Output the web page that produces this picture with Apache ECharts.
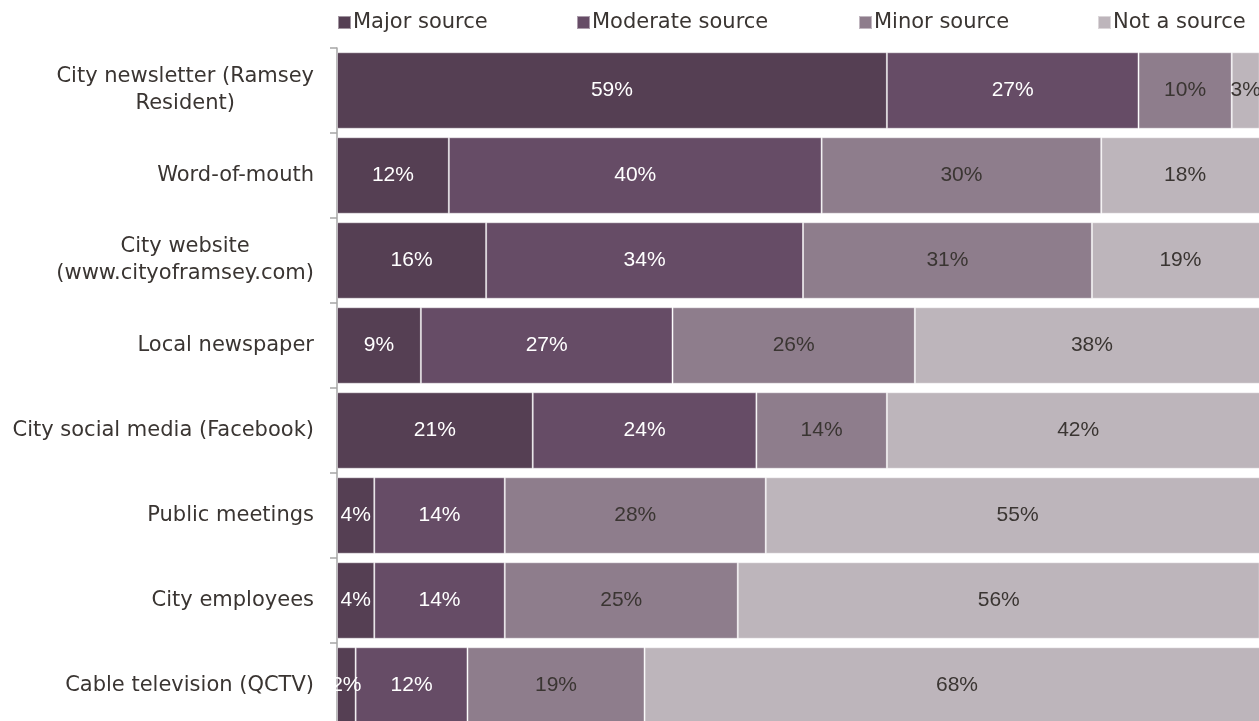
<!DOCTYPE html>
<html>
<head>
<meta charset="utf-8">
<script src="https://cdn.jsdelivr.net/npm/echarts@6/dist/echarts.min.js"></script>
<style>html,body{margin:0;padding:0;background:#fff;overflow:hidden;width:1259px;height:721px;}#c{width:1269px;height:728px;}</style>
</head>
<body>
<div id="c"></div>
<script>
const categories = [
  "City newsletter (Ramsey\nResident)",
  "Word-of-mouth",
  "City website\n(www.cityoframsey.com)",
  "Local newspaper",
  "City social media (Facebook)",
  "Public meetings",
  "City employees",
  "Cable television (QCTV)"
];
const seriesNames = ["Major source", "Moderate source", "Minor source", "Not a source"];
const majorSource    = [59, 12, 16, 9, 21, 4, 4, 2];
const moderateSource = [27, 40, 34, 27, 24, 14, 14, 12];
const minorSource    = [10, 30, 31, 26, 14, 28, 25, 19];
const notASource     = [3, 18, 19, 38, 42, 55, 56, 68];

const colors = ["#553f53", "#664c66", "#8e7d8c", "#bdb5bb"];
const labelColors = ["#ffffff", "#ffffff", "#3a3532", "#3a3532"];
const values = [majorSource, moderateSource, minorSource, notASource];
const legendLeft = [337, 576, 858, 1097];

const chart = echarts.init(document.getElementById('c'));
const font = 'DejaVu Sans';

function catFormatter(v) {
  const lines = v.split('\n');
  if (lines.length === 1) return v;
  return lines.map(l => '{c|' + l + '}').join('\n');
}

chart.setOption({
  backgroundColor: '#ffffff',
  animation: false,
  color: colors,
  legend: seriesNames.map((n, i) => ({
    data: [n],
    left: legendLeft[i],
    top: 12,
    padding: 0,
    icon: 'rect',
    itemWidth: 13,
    itemHeight: 13,
    selectedMode: false,
    textStyle: { fontFamily: font, fontSize: 21, color: '#3a3532', padding: [0, 0, 0, -3] }
  })),
  grid: { left: 337, top: 48, right: 0, bottom: 0 },
  xAxis: { type: 'value', min: 0, max: 100, show: false },
  yAxis: {
    type: 'category',
    inverse: true,
    data: categories,
    axisLine: { show: true, lineStyle: { color: '#a6a6a6', width: 1.5 } },
    axisTick: { show: true, length: 7, lineStyle: { color: '#a6a6a6', width: 1.5 } },
    axisLabel: {
      margin: 23,
      fontFamily: font,
      fontSize: 21,
      color: '#3a3532',
      lineHeight: 27,
      formatter: catFormatter,
      rich: { c: { fontFamily: font, fontSize: 21, color: '#3a3532', lineHeight: 27, align: 'center' } }
    }
  },
  series: seriesNames.map((n, i) => ({
    name: n,
    type: 'bar',
    stack: 'total',
    barCategoryGap: '10%',
    data: values[i],
    itemStyle: { color: colors[i], borderColor: 'rgba(255,255,255,0.45)', borderWidth: 1 },
    label: {
      show: true,
      position: 'inside',
      formatter: p => p.value + '%',
      fontFamily: 'Liberation Sans',
      fontSize: 21,
      color: labelColors[i]
    }
  }))
});
</script>
</body>
</html>
